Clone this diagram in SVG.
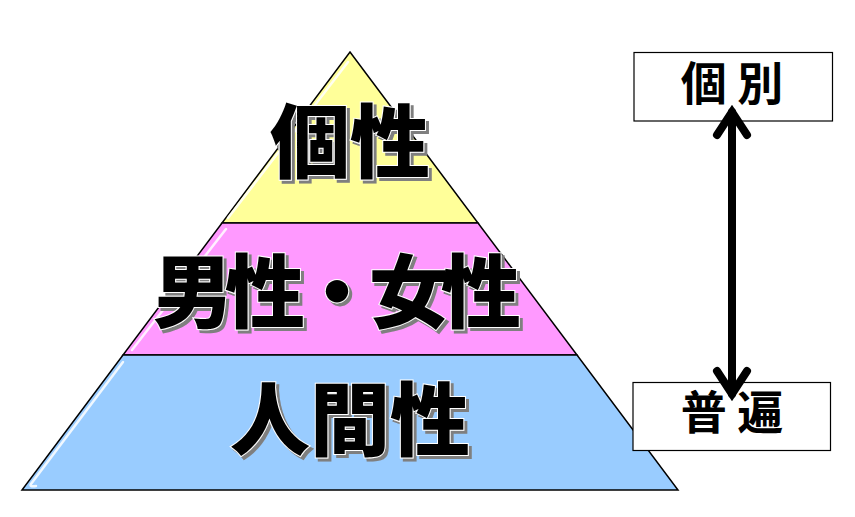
<svg xmlns="http://www.w3.org/2000/svg" width="855" height="517" viewBox="0 0 855 517">
  <defs>
    <filter id="shadow" x="-10%" y="-10%" width="130%" height="130%">
      <feDropShadow dx="3" dy="3" stdDeviation="0.6" flood-color="#7f7f7f" flood-opacity="1"/>
    </filter>
  </defs>
  <style>
    .band { stroke: #000; stroke-width: 1.5; stroke-linejoin: miter; }
    .hl { fill: none; stroke: #ffffff; stroke-width: 2.5; stroke-linecap: round; opacity: 0.85; }
    .big { font-family: "Noto Sans CJK JP", "Noto Sans CJK SC", sans-serif; font-weight: 900; font-size: 80px; fill: #000; stroke: #fff; stroke-width: 2; paint-order: stroke; text-anchor: middle; filter: url(#shadow); }
    .box { fill: #fff; stroke: #000; stroke-width: 1.2; }
    .lbl { font-family: "Noto Sans CJK JP", "Noto Sans CJK SC", sans-serif; font-weight: 700; font-size: 46px; fill: #000; text-anchor: middle; }
    .arrow { fill: none; stroke: #000; stroke-width: 8; stroke-linecap: round; stroke-linejoin: miter; stroke-miterlimit: 10; }
  </style>
  <rect width="855" height="517" fill="#fff"/>

  <g id="node-kosei">
    <polygon class="band" points="350,52 478,223 222,223" fill="#ffff99"/>
    <path class="hl" d="M348,62 L228,218"/>
    <text class="big" x="350" y="171">個性</text>
  </g>

  <g id="node-danjo">
    <polygon class="band" points="222,223 478,223 577,355 123,355" fill="#ff99ff"/>
    <path class="hl" d="M226,229 L132,350"/>
    <text class="big" x="333" y="321" letter-spacing="-8">男性・女性</text>
  </g>

  <g id="node-ningen">
    <polygon class="band" points="123,355 577,355 678,490 22,490" fill="#99ccff"/>
    <path class="hl" d="M123,362 L31,484 Q29,487 36,486"/>
    <text class="big" x="350" y="449">人間性</text>
  </g>

  <g id="node-kobetsu">
    <rect class="box" x="634" y="52.5" width="198.5" height="68.5"/>
    <text class="lbl" x="732" y="100">個 別</text>
  </g>

  <g id="node-fuhen">
    <rect class="box" x="633" y="382.5" width="197.5" height="68"/>
    <text class="lbl" x="732" y="429">普 遍</text>
  </g>

  <g id="connectors">
    <path class="arrow" d="M732,112 L732,394"/>
    <path class="arrow" d="M717,135 L732,112 L747,135"/>
    <path class="arrow" d="M717,371 L732,394 L747,371"/>
  </g>
</svg>
